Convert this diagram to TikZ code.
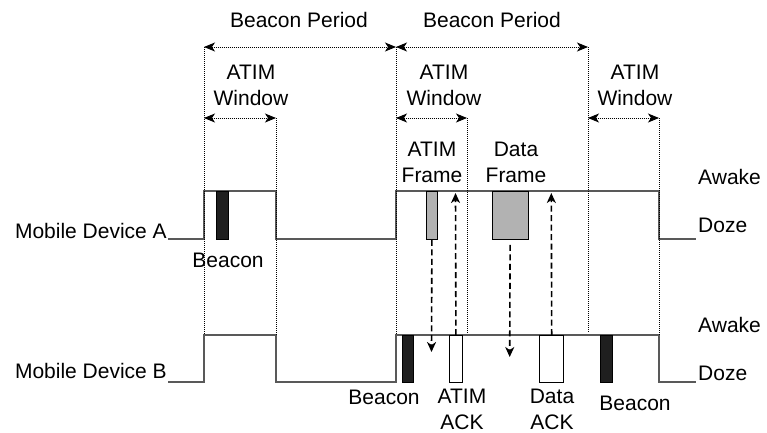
\documentclass[tikz,border=0pt]{standalone}
\usepackage{fontspec}
\setmainfont{Liberation Sans}
\usetikzlibrary{arrows.meta}
\begin{document}
\begin{tikzpicture}[x=1pt,y=-1pt,
  lbl/.style={font=\fontsize{21}{26}\selectfont, inner sep=0pt, align=center},
  sig/.style={draw=black!65, line width=1.2pt},
  dotv/.style={draw=black, line width=0.9pt, dash pattern=on 1pt off 1pt},
  span/.style={draw=black, line width=0.9pt, dash pattern=on 1pt off 1pt, {Stealth[length=11pt,width=9pt,inset=3pt]}-{Stealth[length=11pt,width=9pt,inset=3pt]}},
  msg/.style={draw=black, line width=1.6pt, dash pattern=on 6pt off 3.5pt, -{Stealth[length=10pt,width=9pt,inset=3pt]}},
  pkt/.style={draw=black, line width=0.8pt, inner sep=0pt, anchor=north west, minimum height=48pt},
  dark/.style={pkt, fill=black!88},
  grey/.style={pkt, fill=black!30},
  white/.style={pkt, fill=white}]
\useasboundingbox (0,0) rectangle (767,432);

% signals
\draw[sig] (168,239) -- (204,239) -- (204,191) -- (276,191) -- (276,239) -- (396,239) -- (396,191) -- (659,191) -- (659,239) -- (696,239);
\draw[sig] (168,382) -- (204,382) -- (204,335) -- (276,335) -- (276,382) -- (396,382) -- (396,335) -- (659,335) -- (659,382) -- (696,382);

% dotted verticals
\coordinate (p0) at (204,47);  \coordinate (p1) at (396,47);  \coordinate (p2) at (588,47);
\coordinate (w0a) at (204,118); \coordinate (w0b) at (276,118);
\coordinate (w1a) at (396,118); \coordinate (w1b) at (467,118);
\coordinate (w2a) at (588,118); \coordinate (w2b) at (659,118);
\draw[dotv] (p0) -- (204,335);
\draw[dotv] (w0b) -- (276,335);
\draw[dotv] (p1) -- (396,335);
\draw[dotv] (w1b) -- (467,333);
\draw[dotv] (p2) -- (588,333);
\draw[dotv] (w2b) -- (659,335);

% span arrows
\draw[span] (p0) -- (p1);
\draw[span] (p1) -- (p2);
\draw[span] (w0a) -- (w0b);
\draw[span] (w1a) -- (w1b);
\draw[span] (w2a) -- (w2b);

% labels top
\node[lbl] (bp1) at (299,20) {Beacon Period};
\node[lbl] (bp2) at (492,20) {Beacon Period};
\node[lbl] (aw1) at (251,85) {ATIM\\Window};
\node[lbl] (aw2) at (444,85) {ATIM\\Window};
\node[lbl] (aw3) at (635,85) {ATIM\\Window};
\node[lbl] (af) at (432,162) {ATIM\\Frame};
\node[lbl] (df) at (516,162) {Data\\Frame};

% packets
\node[dark, minimum width=12.3pt] (beaconA) at (215.7,191) {};
\node[grey, minimum width=11.6pt] (atimF) at (425.7,191) {};
\node[grey, minimum width=36pt] (dataF) at (491.7,191) {};
\node[dark, minimum width=11.6pt, minimum height=47pt] (beaconB1) at (401.7,335) {};
\node[white, minimum width=12.4pt, minimum height=47pt] (atimAck) at (449.3,335) {};
\node[white, minimum width=24pt, minimum height=47pt] (dataAck) at (539.3,335) {};
\node[dark, minimum width=12pt, minimum height=47pt] (beaconB2) at (600,335) {};

% messages
\coordinate (t1) at (431.5,352);
\coordinate (t2) at (455.5,193);
\coordinate (t3) at (509.7,357);
\coordinate (t4) at (551.3,193);
\draw[msg] (atimF.south) -- (t1);
\draw[msg] (atimAck.north) -- (t2);
\draw[msg] ([yshift=-5pt]dataF.south) -- (t3);
\draw[msg] (dataAck.north) -- (t4);

% side labels
\node[lbl, anchor=east] (mA) at (167,231) {Mobile Device A};
\node[lbl, anchor=east] (mB) at (167,371) {Mobile Device B};
\node[lbl, anchor=west] (awA) at (698,177) {Awake};
\node[lbl, anchor=west] (dzA) at (698,225) {Doze};
\node[lbl, anchor=west] (awB) at (698,325) {Awake};
\node[lbl, anchor=west] (dzB) at (698,373) {Doze};

% packet labels
\node[lbl] (lbA) at (228,260) {Beacon};
\node[lbl] (lbB1) at (384,397) {Beacon};
\node[lbl] (lack1) at (462,409) {ATIM\\ACK};
\node[lbl] (lack2) at (552,409) {Data\\ACK};
\node[lbl] (lbB2) at (635,403) {Beacon};
\end{tikzpicture}
\end{document}
